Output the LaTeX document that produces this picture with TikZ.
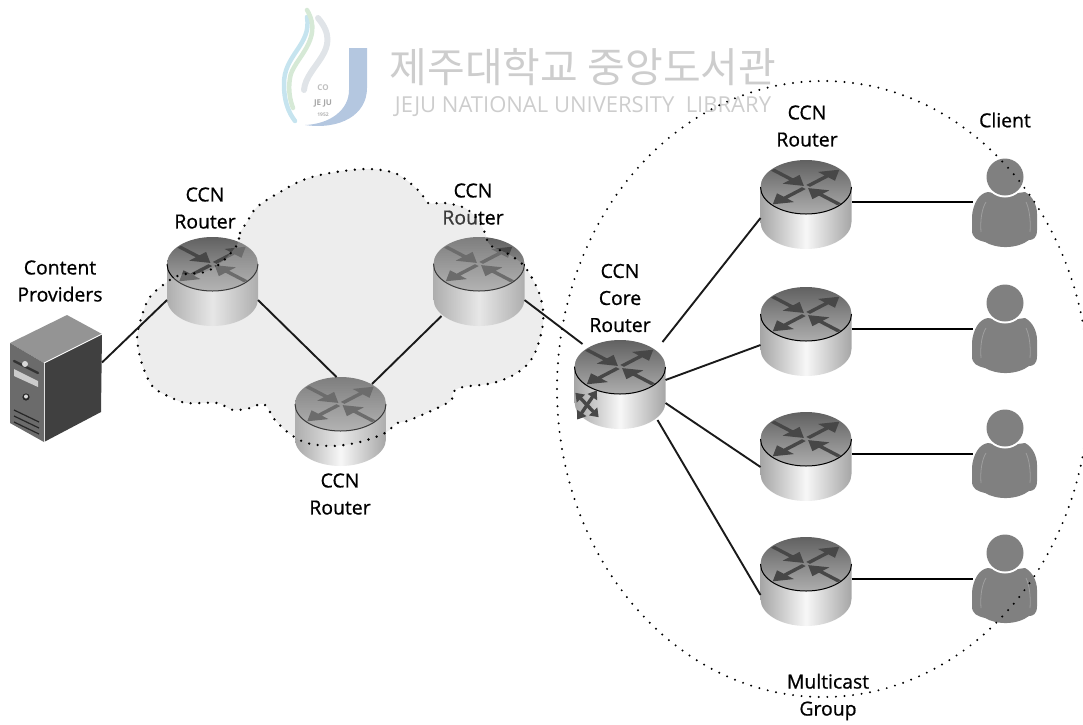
\documentclass[tikz,border=0pt]{standalone}
\usepackage{fontspec}
\setmainfont{Open Sans}
\newfontfamily\krfont{Noto Sans CJK KR}
\newfontfamily\namefont{Open Sans}[FakeBold=0.8]
\usetikzlibrary{arrows.meta, positioning}
\definecolor{routerdark}{HTML}{474747}
\definecolor{wirecol}{HTML}{1A1A1A}
\definecolor{clientcol}{HTML}{808080}
\definecolor{markcol}{HTML}{CDCDCD}
\definecolor{markblue}{HTML}{B4C7E0}
\definecolor{markcyan}{HTML}{C6E4EF}
\definecolor{markgreen}{HTML}{D6E9D6}
\definecolor{markgrey}{HTML}{E0E4E8}

\begin{document}
\begin{tikzpicture}[
    x=1pt, y=-1pt,
    % Node styles
    routerbox/.style={
        rectangle, minimum width=91pt, minimum height=84pt, inner sep=0pt, outer sep=0pt,
      },
    clientbox/.style={
        rectangle, minimum width=65pt, minimum height=88pt, inner sep=0pt, outer sep=0pt,
      },
    serverbox/.style={
        rectangle, minimum width=92pt, minimum height=127pt, inner sep=0pt, outer sep=0pt,
      },
    nametext/.style={
        align=center, font=\namefont\fontsize{19.4}{27}\selectfont, text=black, inner sep=0pt,
      },
    % Edge styles
    wire/.style={draw=wirecol, line width=1.9pt},
    dotted line/.style={draw=black, line cap=round, dash pattern=on 0pt off 8.6pt},
    % Router drawn at a routerbox
    router/.pic={
        \path[left color=black!35, right color=black!35, middle color=black!3]
          (-45.5,-15) -- (-45.5,20) arc[start angle=180, end angle=360, x radius=45.5pt, y radius=27pt]
          -- (45.5,-15) -- cycle;
        \path[top color=black!62, bottom color=black!32]
          (0,-15) ellipse[x radius=45.5pt, y radius=27pt];
        \draw[black, line width=1pt]
          (-45.5,-15) arc[start angle=180, end angle=360, x radius=45.5pt, y radius=27pt];
        \foreach \ang in {45,225} {
            \fill[routerdark, shift={(0,-15)}, yscale=.52, rotate=\ang]
              (3,-2.6) -- (29,-2.6) -- (29,-12) -- (47,0) -- (29,12) -- (29,2.6) -- (3,2.6) -- cycle;
          }
        \foreach \ang in {135,315} {
            \fill[routerdark, shift={(0,-15)}, yscale=.52, rotate=\ang]
              (3,0) -- (21,-12) -- (21,-2.6) -- (47,-2.6) -- (47,2.6) -- (21,2.6) -- (21,12) -- cycle;
          }
      },
    % Person drawn at a clientbox
    client/.pic={
        \fill[clientcol]
          (-33,14) .. controls (-32,2) and (-26,-9) .. (-17,-10)
          .. controls (-8,-8) and (8,-8) .. (20,-10)
          .. controls (28,-6) and (32,4) .. (32,12)
          -- (32,28) .. controls (32,36) and (28,38) .. (24,38)
          .. controls (12,47) and (-8,47) .. (-20,40)
          .. controls (-28,38) and (-33,36) .. (-33,28) -- cycle;
        \draw[black!38, line width=.8pt] (-24,30) .. controls (-25,18) and (-23,6) .. (-19,0);
        \draw[black!38, line width=.8pt] (25,30) .. controls (26,18) and (24,6) .. (21,0);
        \fill[white] (0,-25) circle[radius=20.5pt];
        \fill[clientcol] (0,-25) circle[radius=18.5pt];
      },
  ]
  \useasboundingbox (0,0) rectangle (1083,724);

  % --- Library mark at the top ---
  \begin{scope}[line cap=round]
    \draw[line width=4.5pt, draw=markcyan] (307,17) .. controls (312,45) and (283,55) .. (284,85) .. controls (284,100) and (288,112) .. (295,121);
    \draw[line width=4.5pt, draw=markgreen] (307,10) .. controls (325,40) and (292,60) .. (290,78) .. controls (288,90) and (290,100) .. (293,108);
    \draw[line width=6pt, draw=markgrey] (318,18) .. controls (345,50) and (306,65) .. (304,90);
    \fill[markblue] (349,48) -- (367,48) -- (367,88) .. controls (367,115) and (340,130) .. (305,125)
      .. controls (330,124) and (349,110) .. (349,90) -- cycle;
  \end{scope}
  \node[font=\fontsize{8}{8}\selectfont\bfseries, text=black!25, inner sep=0pt] (markco) at (323,88) {CO};
  \node[font=\fontsize{8}{8}\selectfont\bfseries, text=black!35, inner sep=0pt] (markje) at (323,103) {JE JU};
  \node[font=\fontsize{5}{5}\selectfont\bfseries, text=black!30, inner sep=0pt] (markyr) at (323,115) {1952};
  \node[font=\krfont\fontsize{41}{41}\selectfont, text=markcol, inner sep=0pt] (markname) at (583,67) {제주대학교 중앙도서관};
  \node[font=\fontsize{22}{22}\selectfont, text=markcol, inner sep=0pt] (markeng) at (583,107) {JEJU NATIONAL UNIVERSITY\ \ LIBRARY};

  % --- Boxes that carry the connectors ---
  \node[serverbox] (server) at (56,378.5) {};
  \node[routerbox] (r1) at (212.5,279) {};
  \node[routerbox] (r2) at (479,279) {};
  \node[routerbox] (r3) at (340.5,419) {};
  \node[routerbox] (core) at (620,382) {};
  \foreach \n/\ry/\cy in {a/202/202, b/329/328, c/454/453, d/579/578} {
      \node[routerbox] (r\n) at (806,\ry) {};
      \node[clientbox] (c\n) at (1005,\cy) {};
      \draw[draw=black, line width=2pt] (r\n.east) -- (r\n.east -| c\n.west);
    }

  % --- Server ---
  \fill[black!42] (67,315) -- (102,334) -- (44,363) -- (10,343) -- cycle;
  \fill[black!58] (10,343) -- (44,363) -- (44,442) -- (10,423) -- cycle;
  \fill[black!75] (44,363) -- (102,334) -- (101,412) -- (44,442) -- cycle;
  \draw[white, line width=.9pt] (44,363) -- (102,334);
  \draw[black!12, line width=.9pt] (44,363) -- (44,442);
  \draw[black!80, line width=2.4pt, line cap=round] (14,361) -- (38,373);
  \fill[black!15] (25,364) circle[radius=3pt];
  \fill[black!20] (14,369) -- (38,381) -- (38,387) -- (14,376) -- cycle;
  \fill[black!85] (26,397) circle[radius=3.6pt];
  \fill[black!15] (26,396.5) circle[radius=2pt];
  \foreach \dy in {0,6,12} {
      \draw[black!85, line width=1.2pt] (14,410+\dy) -- (39,422+\dy);
    }

  % --- Routers ---
  \foreach \n in {r1,r2,r3,core,ra,rb,rc,rd} {
      \pic at (\n) {router};
    }
  % Switch mark on the core router
  \begin{scope}[shift={(587,405)}, xscale=.8, routerdark, line width=3.4pt]
    \foreach \ang in {50,140,230,320} {
        \draw[rotate=\ang, -{Triangle[length=8pt, width=11pt]}] (0,0) -- (19,0);
      }
  \end{scope}

  % --- Clients ---
  \foreach \n in {a,b,c,d} {
      \pic at (c\n) {client};
    }

  % --- Labels ---
  \node[nametext] (lblserver) at (60,281) {Content\\Providers};
  \node[nametext] (lblr1) at (205,208) {CCN\\Router};
  \node[nametext] (lblr2) at (473,204) {CCN\\Router};
  \node[nametext] (lblr3) at (340,494) {CCN\\Router};
  \node[nametext] (lblcore) at (620,298) {CCN\\Core\\Router};
  \node[nametext] (lblra) at (807,126) {CCN\\Router};
  \node[nametext] (lblclient) at (1005,120) {Client};
  \node[nametext] (lblgroup) at (828,697) {Multicast\\Group};

  % --- Cloud over the routers ---
  \draw[dotted line, line width=2.6pt, fill=black!24, fill opacity=.3]
    plot[smooth cycle, tension=.55] coordinates {
      (237,245) (240,233) (247,222) (257,207) (280,192) (303,180) (330,173) (367,169) (397,174)
      (420,192) (428,203) (445,203) (465,208) (478,220) (485,233) (490,245) (510,255) (525,267)
      (538,290) (543,310) (542,330) (533,357) (517,373) (493,383) (463,387) (453,392) (449,402)
      (410,420) (397,423) (385,433) (360,442) (333,446) (307,443) (290,434) (275,420) (264,404)
      (250,408) (233,410) (217,403) (187,403) (170,397) (153,387) (143,367) (138,347) (138,330)
      (148,300) (163,285) (180,275) (205,272) (222,262)
    };

  % --- Connectors ---
  \draw[wire] ([yshift=16pt]server.east) -- ([yshift=-21pt]r1.west);
  \draw[wire] ([yshift=-21pt]r1.east) -- ([xshift=-4pt]r3.north);
  \draw[wire] ([shift={(31.5pt,-7pt)}]r3.north) -- ([shift={(8pt,5pt)}]r2.south west);
  \draw[wire] ([yshift=-21pt]r2.east) -- ([shift={(8pt,-4pt)}]core.north west);
  \draw[wire] ([shift={(-3pt,-2pt)}]core.north east) -- ([yshift=-16pt]ra.west);
  \draw[wire] ([yshift=2pt]core.east) -- ([yshift=-16pt]rb.west);
  \draw[wire] ([yshift=-21pt]core.east) -- ([yshift=-13pt]rc.west);
  \draw[wire] ([shift={(-8pt,4pt)}]core.south east) -- ([yshift=-16pt]rd.west);

  % --- Multicast group ---
  \draw[dotted line, line width=2.2pt] (823,389) ellipse[x radius=266pt, y radius=308pt];
\end{tikzpicture}
\end{document}
